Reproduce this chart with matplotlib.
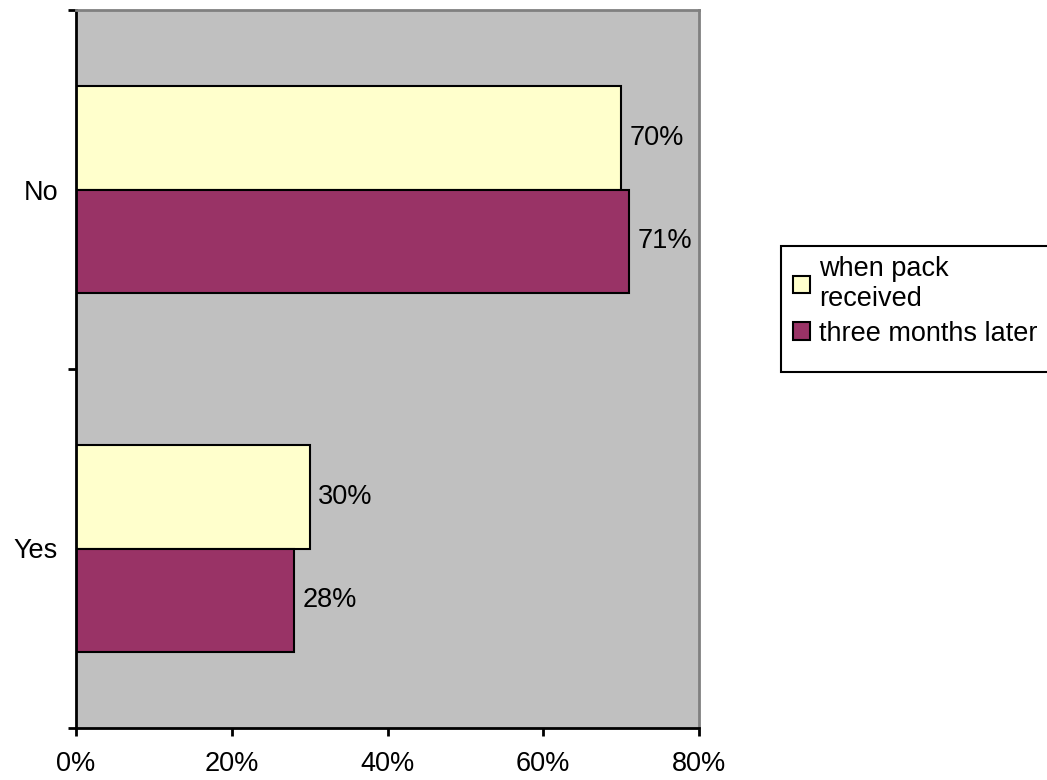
import matplotlib.pyplot as plt
import numpy as np
from matplotlib.patches import Patch, Rectangle

plt.rcParams['font.family'] = ['Liberation Sans', 'DejaVu Sans']

categories = ["Yes", "No"]
when_received = [30, 70]
three_months = [28, 71]
series_names = ["when pack\nreceived", "three months later"]
colors = ["#FFFFCC", "#993366"]
fs = 19.5

W, H = 1047, 780
fig = plt.figure(figsize=(W / 100, H / 100), dpi=100)
ax = fig.add_axes([76 / W, 1 - 728 / H, (699 - 76) / W, (728 - 10) / H])
ax.set_facecolor("#C0C0C0")

y = np.arange(len(categories))
h = 0.2875
bars1 = ax.barh(y + h / 2, when_received, height=h, color=colors[0], edgecolor="black", linewidth=1.5)
bars2 = ax.barh(y - h / 2, three_months, height=h, color=colors[1], edgecolor="black", linewidth=1.5)

for bars, vals in ((bars1, when_received), (bars2, three_months)):
    for b, v in zip(bars, vals):
        ax.text(v + 1.1, b.get_y() + b.get_height() / 2, f"{v}%", va="center", ha="left", fontsize=fs)

ax.set_xlim(0, 80)
ax.set_ylim(-0.5, 1.5)
ax.set_xticks([0, 20, 40, 60, 80])
ax.set_xticklabels([f"{t}%" for t in [0, 20, 40, 60, 80]], fontsize=fs)
ax.set_yticks([-0.5, 0.5, 1.5])
ax.set_yticklabels([])
ax.set_yticks(y, minor=True)
ax.set_yticklabels(categories, minor=True, fontsize=fs)
ax.tick_params(axis="y", which="minor", length=0, pad=13)
ax.tick_params(axis="y", which="major", length=5.5, width=2, direction="out")
ax.tick_params(axis="x", length=5.5, width=2, direction="out", pad=11)

for side in ("top", "right"):
    ax.spines[side].set_color("#808080")
    ax.spines[side].set_linewidth(2)
for side in ("left", "bottom"):
    ax.spines[side].set_color("black")
    ax.spines[side].set_linewidth(2)

# legend frame runs off the right edge like the original
fig.patches.append(Rectangle((781 / W, 1 - 372 / H), 300 / W, 126 / H, transform=fig.transFigure,
                             facecolor="white", edgecolor="black", linewidth=1.5, zorder=0))
handles = [Patch(facecolor=c, edgecolor="black", linewidth=1.5) for c in colors]
leg = fig.legend(handles, series_names, loc="upper left",
                 bbox_to_anchor=(788 / W, 1 - 251 / H), fontsize=fs,
                 frameon=False, handlelength=0.6, handleheight=0.6,
                 handletextpad=0.35, borderpad=0.2, labelspacing=0.3, borderaxespad=0)

fig.savefig("out.png", dpi=100)
